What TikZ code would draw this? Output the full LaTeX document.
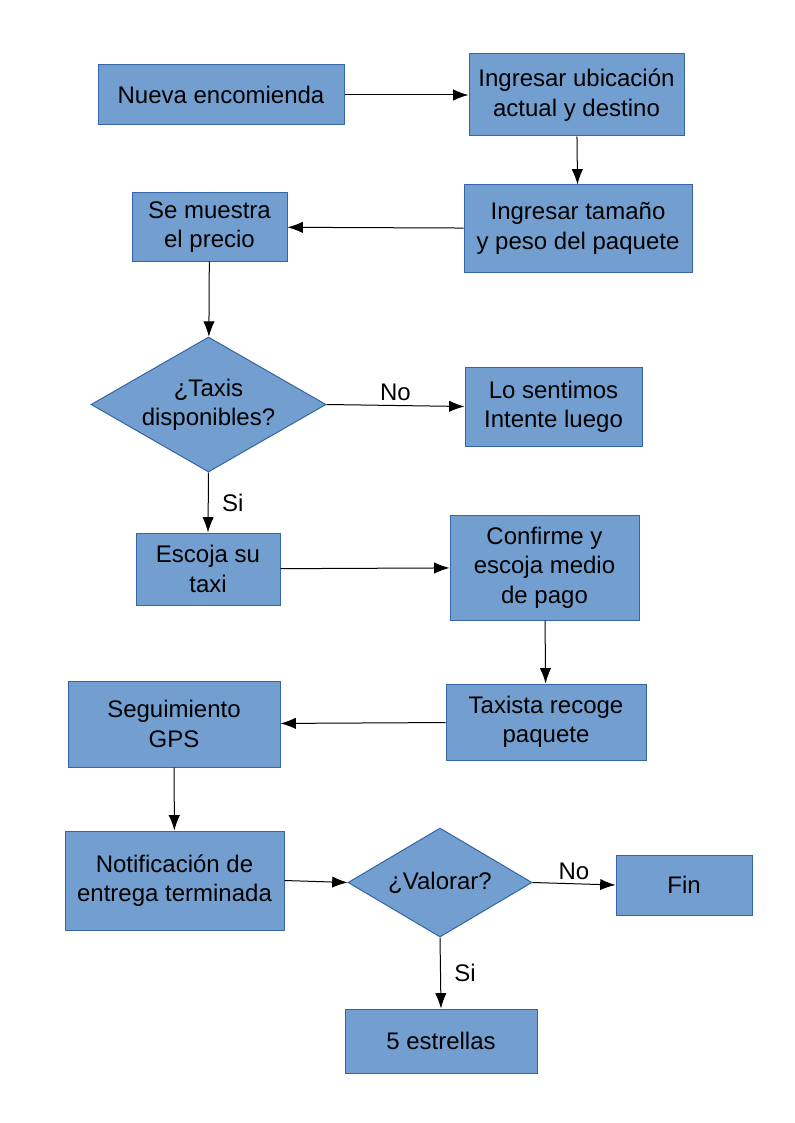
\documentclass[tikz,border=0pt]{standalone}
\usepackage{fontspec}
\setmainfont{Liberation Sans}
\usetikzlibrary{shapes.geometric,arrows.meta}
\definecolor{boxfill}{HTML}{729FCF}
\definecolor{boxline}{HTML}{3465A4}
\tikzset{
  caja/.style={draw=boxline,fill=boxfill,line width=0.75pt,inner sep=0pt,align=center,
    font=\fontsize{18}{22}\selectfont},
  rombo/.style={caja,diamond,aspect=1.74},
  flecha/.style={line width=0.75pt,-{Latex[length=11.5pt,width=8.5pt]}},
  etiq/.style={font=\fontsize{18}{22}\selectfont,inner sep=3pt},
}
\begin{document}
\begin{tikzpicture}[x=0.75pt,y=-0.75pt]
 \useasboundingbox (0,0) rectangle (794,1123);
 \node[caja,minimum width=184.5pt,minimum height=45pt] (enc) at (221,95) {Nueva encomienda};
 \node[caja,minimum width=161.25pt,minimum height=61.5pt] (ubic) at (576.5,95) {Ingresar ubicación\\actual y destino};
 \node[caja,minimum width=171pt,minimum height=65.25pt] (peso) at (578,228.5) {Ingresar tamaño\\y peso del paquete};
 \node[caja,minimum width=116.25pt,minimum height=51pt] (precio) at (209.5,227) {Se muestra\\el precio};
 \node[rombo,minimum width=176.25pt,minimum height=101.25pt] (taxis) at (208.5,404.5) {¿Taxis\\disponibles?};
 \node[caja,minimum width=132.75pt,minimum height=59.25pt] (lo) at (553.5,406.5) {Lo sentimos\\Intente luego};
 \node[caja,minimum width=108pt,minimum height=54pt] (escoja) at (208,569) {Escoja su\\taxi};
 \node[caja,minimum width=141.75pt,minimum height=78.75pt] (conf) at (544.5,567.5) {Confirme y\\escoja medio\\de pago};
 \node[caja,minimum width=150pt,minimum height=57pt] (recoge) at (546,722) {Taxista recoge\\paquete};
 \node[caja,minimum width=159pt,minimum height=64.5pt] (gps) at (174,724) {Seguimiento\\GPS};
 \node[caja,minimum width=164.25pt,minimum height=74.25pt] (notif) at (174.5,880.5) {Notificación de\\entrega terminada};
 \node[rombo,minimum width=138pt,minimum height=81.75pt] (val) at (440,882.5) {¿Valorar?};
 \node[caja,minimum width=102pt,minimum height=45pt] (fin) at (684,885) {Fin};
 \node[caja,minimum width=144pt,minimum height=48pt] (est) at (441,1041) {5 estrellas};
 %
 \draw[flecha] (enc) -- (ubic);
 \draw[flecha] (ubic) -- (peso);
 \draw[flecha] (peso) -- (precio);
 \draw[flecha] (precio) -- (taxis);
 \draw[flecha] (taxis.east) -- node[etiq,above] {No} (lo.west);
 \draw[flecha] (taxis.south) -- node[etiq,right=7pt] {Si} (escoja.north);
 \draw[flecha] (escoja) -- (conf);
 \draw[flecha] (conf) -- (recoge);
 \draw[flecha] (recoge) -- (gps);
 \draw[flecha] (gps) -- (notif);
 \draw[flecha] (notif.east) -- (val.west);
 \draw[flecha] (val.east) -- node[etiq,above] {No} (fin.west);
 \draw[flecha] (val.south) -- node[etiq,right=7pt] {Si} (est.north);
\end{tikzpicture}
\end{document}
